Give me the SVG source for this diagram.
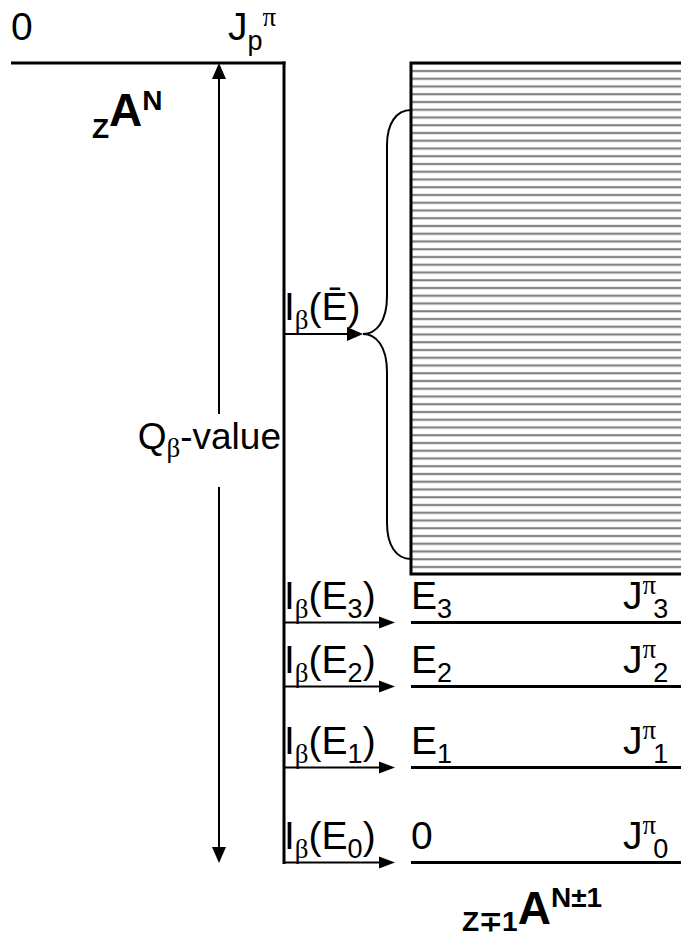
<svg xmlns="http://www.w3.org/2000/svg" width="681" height="941" viewBox="0 0 681 941">
<style>
text{font-family:"Liberation Sans",Arial,sans-serif;font-size:39px;fill:#000}
.g{font-family:"Liberation Serif","Times New Roman",serif}
.b{font-weight:bold}
.s{font-size:27px}
.bs{font-size:28px}
.big{font-size:46px}
.thick{stroke:#000;stroke-width:3;fill:none}
.thin{stroke:#000;stroke-width:2;fill:none}
.hd{fill:#000}
</style>
<defs>
<pattern id="hatch" patternUnits="userSpaceOnUse" x="0" y="67" width="20" height="7.75">
<rect width="20" height="7.75" fill="#fff"/>
<rect y="2.8" width="20" height="2.4" fill="#a8a8a8"/>
<rect y="3.4" width="20" height="1.2" fill="#6e6e6e"/>
</pattern>
</defs>
<g id="parent">
<line class="thick" x1="11" y1="63" x2="285.5" y2="63"/>
<line class="thick" x1="284" y1="61.5" x2="284" y2="864"/>
<text x="11" y="40">0</text>
<text x="228" y="40">J<tspan class="s" dy="10">p</tspan><tspan class="s g" dy="-24">π</tspan></text>
<text class="b" x="92" y="138"><tspan class="bs">Z</tspan><tspan class="big" dy="-12">A</tspan><tspan class="bs" dy="-16">N</tspan></text>
</g>
<g id="continuum">
<rect x="411" y="63" width="272" height="511" fill="url(#hatch)"/>
<path class="thick" d="M683,63 H411 V574 H683"/>
<path class="thin" d="M411,110 C396,110 387,124 387,145 V296 C387,322 376,334 363,334 C376,334 387,346 387,372 V523 C387,545 396,559 411,559"/>
</g>
<g id="level3">
<line class="thick" x1="411" y1="622.5" x2="681" y2="622.5"/>
<text x="411" y="609">E<tspan class="s" dy="9">3</tspan></text>
<text x="623" y="609">J<tspan class="s g" dy="-15">π</tspan><tspan class="s" dy="24" dx="-3">3</tspan></text>
</g>
<g id="level2">
<line class="thick" x1="411" y1="686.5" x2="681" y2="686.5"/>
<text x="411" y="673">E<tspan class="s" dy="9">2</tspan></text>
<text x="623" y="673">J<tspan class="s g" dy="-15">π</tspan><tspan class="s" dy="24" dx="-3">2</tspan></text>
</g>
<g id="level1">
<line class="thick" x1="411" y1="767.5" x2="681" y2="767.5"/>
<text x="411" y="754">E<tspan class="s" dy="9">1</tspan></text>
<text x="623" y="754">J<tspan class="s g" dy="-15">π</tspan><tspan class="s" dy="24" dx="-3">1</tspan></text>
</g>
<g id="level0">
<line class="thick" x1="411" y1="862.5" x2="681" y2="862.5"/>
<text x="411" y="849">0</text>
<text x="623" y="849">J<tspan class="s g" dy="-15">π</tspan><tspan class="s" dy="24" dx="-3">0</tspan></text>
</g>
<g id="daughter-label">
<text class="b" x="462" y="931"><tspan class="bs">Z∓1</tspan><tspan class="big" dy="-7">A</tspan><tspan class="bs" dy="-17">N±1</tspan></text>
</g>
<g id="connectors">
<line class="thin" x1="219" y1="78" x2="219" y2="414"/>
<line class="thin" x1="219" y1="487" x2="219" y2="848"/>
<polygon class="hd" points="219,63 212,79 226,79"/>
<polygon class="hd" points="219,863 212,847 226,847"/>
<text x="281" y="449" text-anchor="end" style="font-size:37px">Q<tspan class="s g" dy="8">β</tspan><tspan dy="-8">-value</tspan></text>
<line class="thin" x1="284" y1="334" x2="349" y2="334"/>
<polygon class="hd" points="363,334 347,327 347,341"/>
<text x="284" y="320">I<tspan class="s g" dy="9">β</tspan><tspan dy="-9">(Ē)</tspan></text>
<line class="thin" x1="284" y1="622.5" x2="381" y2="622.5"/>
<polygon class="hd" points="395,622.5 379,616.5 379,628.5"/>
<text x="284" y="609">I<tspan class="s g" dy="9">β</tspan><tspan dy="-9">(E</tspan><tspan class="s" dy="9">3</tspan><tspan dy="-9">)</tspan></text>
<line class="thin" x1="284" y1="686.5" x2="381" y2="686.5"/>
<polygon class="hd" points="395,686.5 379,680.5 379,692.5"/>
<text x="284" y="673">I<tspan class="s g" dy="9">β</tspan><tspan dy="-9">(E</tspan><tspan class="s" dy="9">2</tspan><tspan dy="-9">)</tspan></text>
<line class="thin" x1="284" y1="767.5" x2="381" y2="767.5"/>
<polygon class="hd" points="395,767.5 379,761.5 379,773.5"/>
<text x="284" y="754">I<tspan class="s g" dy="9">β</tspan><tspan dy="-9">(E</tspan><tspan class="s" dy="9">1</tspan><tspan dy="-9">)</tspan></text>
<line class="thin" x1="284" y1="862.5" x2="381" y2="862.5"/>
<polygon class="hd" points="395,862.5 379,856.5 379,868.5"/>
<text x="284" y="849">I<tspan class="s g" dy="9">β</tspan><tspan dy="-9">(E</tspan><tspan class="s" dy="9">0</tspan><tspan dy="-9">)</tspan></text>
</g>
</svg>
